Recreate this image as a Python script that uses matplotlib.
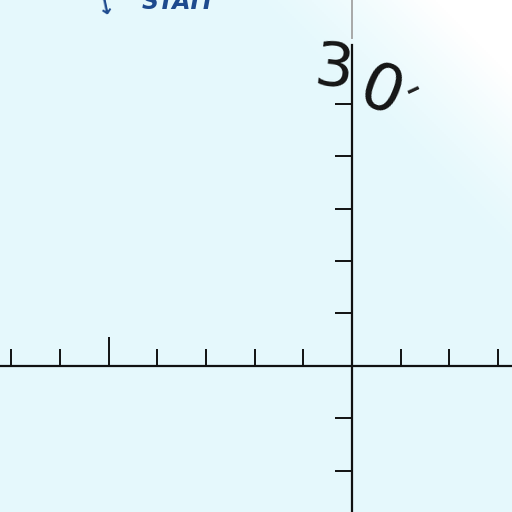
import numpy as np
import matplotlib
matplotlib.use('Agg')
import matplotlib.pyplot as plt

# axis ticks (units along each axis)
x_ticks = [-7, -6, -4, -3, -2, -1, 1, 2, 3]
x_long_tick = [-5]
y_ticks = [-2, -1, 1, 2, 3, 4, 5]
x_range = (-7.23, 3.29)
y_range = (-2.79, 6.98)

label_top = 'STAIT'
label_num = ['3', '0', '-']

fig = plt.figure(figsize=(5.12, 5.12), dpi=100)
ax = fig.add_axes([0, 0, 1, 1])
ax.set_xlim(*x_range)
ax.set_ylim(*y_range)

# paper background: pale cyan fading to white in the top-right corner
h, w = 256, 256
yy, xx = np.mgrid[0:h, 0:w]
u = xx / w - yy / h
t = np.clip((u - 0.5) / 0.35, 0, 1)[..., None] ** 1.3
cyan = np.array([0.90, 0.975, 0.99])
img = cyan * (1 - t) + np.array([1.0, 1.0, 1.0]) * t
ax.imshow(img, extent=[*x_range, *y_range], origin='upper', aspect='auto', zorder=0)

for s in ['top', 'right']:
    ax.spines[s].set_visible(False)
ax.spines['left'].set_position(('data', 0))
ax.spines['bottom'].set_position(('data', 0))
ax.spines['left'].set_bounds(y_range[0], 6.13)
for s in ['left', 'bottom']:
    ax.spines[s].set_linewidth(1.6)
    ax.spines[s].set_color('#111111')
ax.plot([0, 0], [6.25, y_range[1]], color='#a8a8a8', lw=1.4, zorder=3)

ax.set_xticks(x_ticks)
ax.set_xticks(x_long_tick, minor=True)
ax.set_yticks(y_ticks)
ax.tick_params(axis='x', which='major', direction='in', length=12.5, width=1.4,
               color='#111111', labelbottom=False)
ax.tick_params(axis='x', which='minor', direction='in', length=21, width=1.4,
               color='#111111', labelbottom=False)
ax.tick_params(axis='y', which='major', direction='out', length=12.5, width=1.4,
               color='#111111', labelleft=False)

# handwritten "30-" near the top of the vertical axis
ax.text(-0.38, 5.66, label_num[0], fontsize=44, color='#151515', ha='center', va='center',
        rotation=-6, zorder=4)
ax.text(0.6, 5.2, label_num[1], fontsize=46, color='#151515', ha='center', va='center',
        rotation=-22, zorder=4)
ax.text(1.25, 5.3, label_num[2], fontsize=32, color='#222222', ha='center', va='center',
        rotation=25, zorder=4)

# printed label at the top edge
ax.text(-3.55, 6.95, label_top, fontsize=17, fontweight='bold', fontstyle='italic',
        color='#1d4a8e', ha='center', va='center', zorder=4)
ax.text(-5.05, 6.85, '\u2193', fontsize=15, fontweight='bold', color='#1d4a8e',
        ha='center', va='center', rotation=12, zorder=4)

fig.savefig('out.png', dpi=100)
